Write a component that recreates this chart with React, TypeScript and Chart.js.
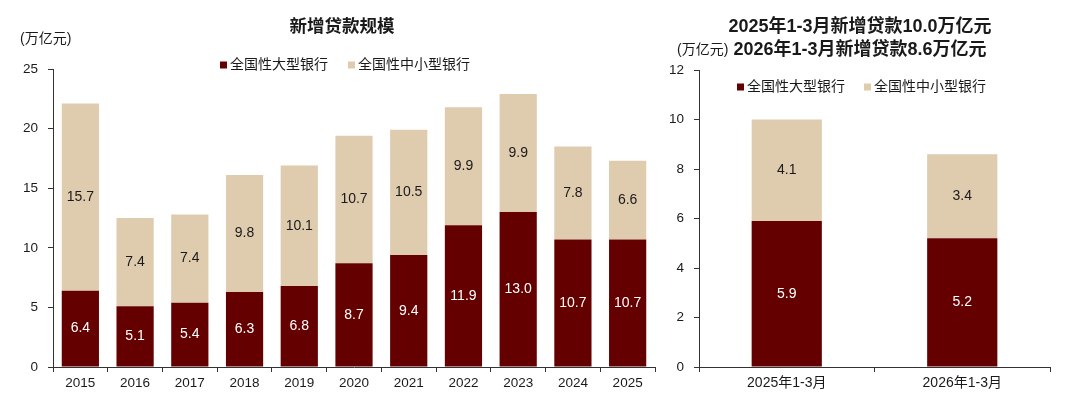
import { useEffect, useRef } from 'react'
import { Chart, registerables } from 'chart.js'

Chart.register(...registerables)

const seriesNames = ['全国性大型银行', '全国性中小型银行']
const seriesColors = ['#650000', '#dfcbae']

const years = ['2015', '2016', '2017', '2018', '2019', '2020', '2021', '2022', '2023', '2024', '2025']
const largeBankLoans = [6.4, 5.1, 5.4, 6.3, 6.8, 8.7, 9.4, 11.9, 13.0, 10.7, 10.7]
const midSmallBankLoans = [15.7, 7.4, 7.4, 9.8, 10.1, 10.7, 10.5, 9.9, 9.9, 7.8, 6.6]

const periods = ['2025年1-3月', '2026年1-3月']
const largeBankQ1 = [5.9, 5.2]
const midSmallBankQ1 = [4.1, 3.4]

const FONT = "Arial, 'Liberation Sans', 'Noto Sans CJK SC', sans-serif"
const TEXT = '#1a1a1a'
const AXIS = '#333333'

interface PanelProps {
  labels: string[]
  large: number[]
  small: number[]
  yMax: number
  yStep: number
  barPct: number
  titles: string[]
  titleX: number
  titleSize: number
  unitX: number
  unitY: number
  legendX: [number, number]
  legendY: number
  padTop: number
  padRight: number
  yWidth: number
  xFontSize: number
}

function StackedPanel(p: PanelProps) {
  const canvasRef = useRef<HTMLCanvasElement>(null)
  const chartRef = useRef<Chart | null>(null)

  useEffect(() => {
    if (!canvasRef.current) return
    const ctx = canvasRef.current.getContext('2d')
    if (!ctx) return
    chartRef.current?.destroy()

    const overlay = {
      id: 'overlayText',
      afterDatasetsDraw(chart: Chart) {
        const c = chart.ctx
        c.save()
        c.font = `14px ${FONT}`
        c.textAlign = 'center'
        c.textBaseline = 'middle'
        chart.data.datasets.forEach((_, di) => {
          const meta = chart.getDatasetMeta(di)
          meta.data.forEach((el: any, i) => {
            const v = chart.data.datasets[di].data[i] as number
            c.fillStyle = di === 0 ? '#ffffff' : TEXT
            c.fillText(v.toFixed(1), el.x, (el.y + el.base) / 2)
          })
        })
        c.restore()
      },
      afterDraw(chart: Chart) {
        const c = chart.ctx
        c.save()
        c.fillStyle = TEXT
        c.textBaseline = 'middle'
        c.textAlign = 'center'
        c.font = `bold ${p.titleSize}px ${FONT}`
        p.titles.forEach((t, i) => c.fillText(t, p.titleX, 27 + i * 23))
        c.textAlign = 'left'
        c.font = `14px ${FONT}`
        c.fillText('(万亿元)', p.unitX, p.unitY)
        chart.data.datasets.forEach((ds, i) => {
          const x = p.legendX[i]
          c.fillStyle = ds.backgroundColor as string
          c.fillRect(x, p.legendY - 3.5, 7, 7)
          c.fillStyle = TEXT
          c.fillText(ds.label as string, x + 10, p.legendY)
        })
        c.restore()
      },
    }

    chartRef.current = new Chart(ctx, {
      type: 'bar',
      data: {
        labels: p.labels,
        datasets: [
          {
            label: seriesNames[0],
            data: p.large,
            backgroundColor: seriesColors[0],
            barPercentage: p.barPct,
            categoryPercentage: 1,
          },
          {
            label: seriesNames[1],
            data: p.small,
            backgroundColor: seriesColors[1],
            barPercentage: p.barPct,
            categoryPercentage: 1,
          },
        ],
      },
      options: {
        responsive: true,
        maintainAspectRatio: false,
        animation: false,
        layout: { padding: { top: p.padTop, right: p.padRight, bottom: 0, left: 0 } },
        plugins: {
          legend: { display: false },
          title: { display: false },
          tooltip: { enabled: false },
        },
        scales: {
          x: {
            stacked: true,
            afterFit: (scale) => {
              scale.height = 36
            },
            grid: {
              offset: true,
              drawOnChartArea: false,
              drawTicks: true,
              tickLength: 5,
              color: AXIS,
            },
            border: { display: true, color: AXIS },
            ticks: { color: TEXT, font: { size: p.xFontSize, family: FONT }, padding: 3 },
          },
          y: {
            stacked: true,
            min: 0,
            max: p.yMax,
            afterFit: (scale) => {
              scale.width = p.yWidth
            },
            grid: {
              drawOnChartArea: false,
              drawTicks: true,
              tickLength: 5,
              color: AXIS,
            },
            border: { display: true, color: AXIS },
            ticks: { stepSize: p.yStep, color: TEXT, font: { size: 13.5, family: FONT }, padding: 10 },
          },
        },
      },
      plugins: [overlay],
    })

    return () => {
      chartRef.current?.destroy()
      chartRef.current = null
    }
  }, [p])

  return <canvas ref={canvasRef}></canvas>
}

const leftPanel: PanelProps = {
  labels: years,
  large: largeBankLoans,
  small: midSmallBankLoans,
  yMax: 25,
  yStep: 5,
  barPct: 0.68,
  titles: ['新增贷款规模'],
  titleX: 342,
  titleSize: 17.5,
  unitX: 20,
  unitY: 39,
  legendX: [220, 348],
  legendY: 65,
  padTop: 69,
  padRight: 5,
  yWidth: 53,
  xFontSize: 13.5,
}

const rightPanel: PanelProps = {
  labels: periods,
  large: largeBankQ1,
  small: midSmallBankQ1,
  yMax: 12,
  yStep: 2,
  barPct: 0.4,
  titles: ['2025年1-3月新增贷款10.0万亿元', '2026年1-3月新增贷款8.6万亿元'],
  titleX: 200,
  titleSize: 18,
  unitX: 17,
  unitY: 50,
  legendX: [77, 204],
  legendY: 87,
  padTop: 70,
  padRight: 30,
  yWidth: 39,
  xFontSize: 14,
}

export default function App() {
  return (
    <div style={{ position: 'absolute', left: 0, top: 0, width: 1080, height: 403, background: '#fff' }}>
      <div style={{ position: 'absolute', left: 0, top: 0, width: 660, height: 403 }}>
        <StackedPanel {...leftPanel} />
      </div>
      <div style={{ position: 'absolute', left: 660, top: 0, width: 420, height: 403 }}>
        <StackedPanel {...rightPanel} />
      </div>
    </div>
  )
}
